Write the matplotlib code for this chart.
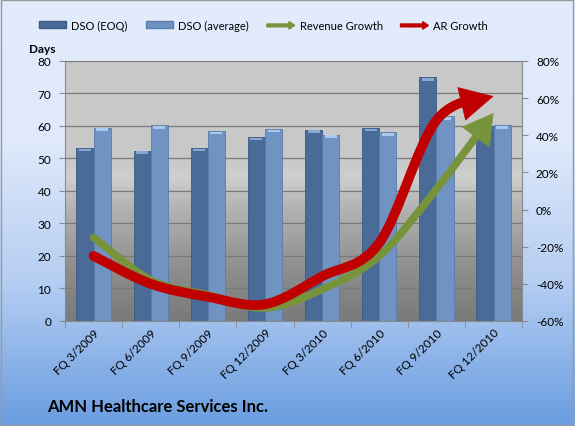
import numpy as np
import matplotlib
matplotlib.use("Agg")
import matplotlib.pyplot as plt
import matplotlib.patches as mpatches
from matplotlib.path import Path
from matplotlib.legend_handler import HandlerPatch
from matplotlib.colors import LinearSegmentedColormap

plt.rcParams['font.family'] = ['Lato', 'DejaVu Sans']

# data
quarters = ['FQ 3/2009', 'FQ 6/2009', 'FQ 9/2009', 'FQ 12/2009',
            'FQ 3/2010', 'FQ 6/2010', 'FQ 9/2010', 'FQ 12/2010']
dso_eoq = [53.2, 52.4, 53.2, 56.6, 58.9, 59.3, 74.9, 60.0]
dso_avg = [59.5, 60.2, 58.4, 59.0, 57.3, 58.0, 62.9, 60.2]
revenue_growth = [-15, -38, -46, -53, -43, -25, 11, 52]
ar_growth = [-25, -40, -47, -51, -36, -18, 48, 61]

c_eoq = '#4a6b98'
c_avg = '#6f93c2'
c_green = '#77933c'
c_red = '#c00000'

fig = plt.figure(figsize=(5.75, 4.27), dpi=100)

# figure background gradient
bg = fig.add_axes([0, 0, 1, 1], zorder=-10)
cm_bg = LinearSegmentedColormap.from_list('bg', ['#6a9de0', '#b4cdf2', '#dfe9fb', '#e2ecfc'])
bg.imshow(np.linspace(0, 1, 256).reshape(-1, 1), aspect='auto', cmap=cm_bg,
          origin='lower', extent=[0, 1, 0, 1])
bg.set_xlim(0, 1)
bg.set_ylim(0, 1)
bg.axis('off')
bg.add_patch(mpatches.Rectangle((0.002, 0.003), 0.995, 0.994, fill=False,
                                edgecolor='#9a9a9a', lw=1))

ax = fig.add_axes([0.113, 0.246, 0.795, 0.609])
ax.set_facecolor('none')

# plot area gradient
cm_pa = LinearSegmentedColormap.from_list(
    'pa', [(0, '#7a7a7a'), (0.2, '#8e8e8e'), (0.45, '#b6b6b6'),
           (0.55, '#cfcfcf'), (0.62, '#c8c8c8'), (1, '#c9c9c9')])
ax.imshow(np.linspace(0, 1, 256).reshape(-1, 1), aspect='auto', cmap=cm_pa,
          origin='lower', extent=[-0.5, len(quarters) - 0.5, 0, 80], zorder=0)

x = np.arange(len(quarters))
w = 0.3
ax.bar(x - w / 2, dso_eoq, w, color=c_eoq, edgecolor='#3d5a82', lw=0.6, zorder=2)
ax.bar(x + w / 2, dso_avg, w, color=c_avg, edgecolor='#5a7daa', lw=0.6, zorder=2)
# light bevel on bar tops
ax.bar(x - w / 2, 0.8, w * 0.7, bottom=np.array(dso_eoq) - 1.0, color='#87a8d2', zorder=3)
ax.bar(x + w / 2, 0.8, w * 0.7, bottom=np.array(dso_avg) - 1.0, color='#a9c8ec', zorder=3)

ax.set_xlim(-0.5, len(quarters) - 0.5)
ax.set_ylim(0, 80)
ax.set_yticks(range(0, 81, 10))
ax.yaxis.grid(True, color='#7a7a7a', lw=0.9)
for gl in ax.get_ygridlines():
    gl.set_zorder(1)
ax.set_xticks(x)
ax.set_xticklabels(quarters, rotation=45, ha='right', rotation_mode='anchor', fontsize=8.5)
ax.set_xticks(np.arange(-0.5, len(quarters)), minor=True)
ax.tick_params(axis='x', which='major', length=0, pad=4)
ax.tick_params(axis='x', which='minor', length=5, color='#8a8a8a')
ax.tick_params(axis='y', length=4, color='#8a8a8a', labelsize=8.5, pad=6)
for s in ['top', 'right']:
    ax.spines[s].set_visible(False)
for s in ['left', 'bottom']:
    ax.spines[s].set_color('#8a8a8a')

ax2 = ax.twinx()
ax2.set_ylim(-60, 80)
ax2.set_yticks(range(-60, 81, 20))
ax2.set_yticklabels([f'{v}%' for v in range(-60, 81, 20)])
ax2.tick_params(axis='y', length=4, color='#8a8a8a', labelsize=8.5, pad=6)
for s in ['top', 'left', 'bottom']:
    ax2.spines[s].set_visible(False)
ax2.spines['right'].set_color('#8a8a8a')


def smooth_verts(xs, ys):
    # Catmull-Rom -> cubic bezier control points
    pts = np.column_stack([xs, ys]).astype(float)
    verts = [pts[0]]
    n = len(pts)
    for i in range(n - 1):
        p0 = pts[max(i - 1, 0)]
        p1 = pts[i]
        p2 = pts[i + 1]
        p3 = pts[min(i + 2, n - 1)]
        verts += [p1 + (p2 - p0) / 6, p2 - (p3 - p1) / 6, p2]
    return verts


def split_left(P, t):
    q1 = P[0] + t * (P[1] - P[0])
    p12 = P[1] + t * (P[2] - P[1])
    p23 = P[2] + t * (P[3] - P[2])
    q2 = q1 + t * (p12 - q1)
    r = p12 + t * (p23 - p12)
    b = q2 + t * (r - q2)
    return [P[0], q1, q2, b]


def t_at_dist(P, trans, dist):
    # parameter on last segment whose point lies `dist` pixels from the end
    end = trans.transform(P[3])
    lo, hi = 0.0, 1.0
    for _ in range(40):
        mid = (lo + hi) / 2
        d = np.hypot(*(trans.transform(split_left(P, mid)[3]) - end))
        if d > dist:
            lo = mid
        else:
            hi = mid
    return lo


for vals, col, lw, hl, hw in [(revenue_growth, c_green, 5.5, 2.1, 1.2),
                              (ar_growth, c_red, 7, 2.3, 1.2)]:
    verts = smooth_verts(x, vals)
    last = [np.asarray(v) for v in verts[-4:]]
    t_cut = t_at_dist(last, ax2.transData, 17)
    t_base = t_at_dist(last, ax2.transData, 40)
    line_verts = verts[:-3] + split_left(last, t_cut)[1:]
    codes = [Path.MOVETO] + [Path.CURVE4] * (len(line_verts) - 1)
    ax2.add_patch(mpatches.PathPatch(Path(line_verts, codes), facecolor='none',
                                     edgecolor=col, lw=lw, capstyle='round',
                                     joinstyle='round', zorder=5))
    ax2.add_patch(mpatches.FancyArrowPatch(
        posA=tuple(split_left(last, t_base)[3]), posB=tuple(last[3]),
        arrowstyle=f'-|>,head_length={hl},head_width={hw}',
        mutation_scale=10, color=col, lw=0.5, shrinkA=0, shrinkB=0, zorder=6))

fig.text(0.05, 0.876, 'Days', fontsize=8.5, fontweight='bold')
fig.text(0.082, 0.035, 'AMN Healthcare Services Inc.', fontsize=12, fontweight='bold')


def make_arrow(legend, orig_handle, xdescent, ydescent, width, height, fontsize):
    return mpatches.FancyArrow(0, height / 2, width, 0, width=height * 0.45,
                               head_width=height * 1.2, head_length=height * 0.9,
                               length_includes_head=True)


h_eoq = mpatches.Patch(facecolor=c_eoq, edgecolor='#3d5a82')
h_avg = mpatches.Patch(facecolor=c_avg, edgecolor='#5a7daa')
h_rev = mpatches.Patch(color=c_green)
h_ar = mpatches.Patch(color=c_red)
fig.legend([h_eoq, h_avg, h_rev, h_ar],
           ['DSO (EOQ)', 'DSO (average)', 'Revenue Growth', 'AR Growth'],
           handler_map={h_rev: HandlerPatch(patch_func=make_arrow),
                        h_ar: HandlerPatch(patch_func=make_arrow)},
           loc='center', bbox_to_anchor=(0.458, 0.939), ncol=4, frameon=False,
           fontsize=8, handlelength=2.5, handleheight=0.5, columnspacing=1.6,
           handletextpad=0.45)

fig.savefig('out.png', dpi=100)
